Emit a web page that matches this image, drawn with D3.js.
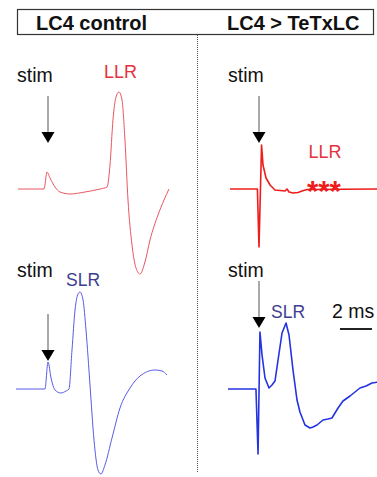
<!DOCTYPE html>
<html>
<head>
<meta charset="utf-8">
<script src="https://cdn.jsdelivr.net/npm/d3@7"></script>
<style>
  body { margin: 0; background: #fff; }
  svg { display: block; font-family: Arial, "Liberation Sans", sans-serif; }
</style>
</head>
<body>
<div id="chart"></div>
<script>
//Datos: tiempo (ms, 0 = estímulo) y amplitud (unidades arbitrarias, 0 = línea base)
const tLLRcontrol = [-1.875, -0.25, -0.06, 0.125, 0.44, 0.75, 1.375, 2.31, 3.25, 3.69, 3.875, 4.06, 4.25, 4.44, 4.625, 4.81, 5, 5.25, 5.5, 5.75, 6.06, 6.375, 6.875, 7.25, 7.56];
const vLLRcontrol = [0, 0, 1.7, 1.1, 0.2, -0.3, -0.5, -0.3, 0, 0.2, 2.4, 6.9, 9.2, 9.7, 8.9, 4.9, -1.1, -5.6, -7.9, -8.5, -7.3, -5.1, -2.6, -1.1, 0];

const tSLRcontrol = [-2, -0.19, 0, 0.19, 0.44, 0.81, 1.125, 1.31, 1.5, 1.69, 1.875, 2, 2.19, 2.375, 2.625, 2.875, 3.125, 3.31, 3.56, 4, 4.5, 5.125, 5.75, 6.69, 7.125, 7.44];
const vSLRcontrol = [0, 0, 2.7, 1.1, -0.1, -0.4, -0.2, 0, 3.9, 7.9, 9.5, 9.7, 8.9, 5.9, 0.4, -5.1, -8.1, -8.5, -7.6, -4.9, -1.9, 0.1, 1.3, 1.9, 1.8, 1.4];

const tLLRtetx = [-1.81, -0.1, 0, 0.16, 0.25, 0.44, 0.69, 1, 1.625, 1.75, 1.875, 2.125, 2.44, 2.69, 3, 7.5];
const vLLRtetx = [0, 0, -5.8, 4.4, 2.4, 1.1, 0.4, -0.1, -0.2, 0, -0.3, -0.4, -0.35, -0.2, -0.05, 0];

const tSLRtetx = [-1.94, -0.19, -0.06, 0.06, 0.19, 0.375, 0.625, 0.81, 1, 1.19, 1.44, 1.69, 1.875, 2.125, 2.375, 2.56, 2.875, 3.19, 3.375, 3.625, 4, 4.31, 4.56, 4.94, 5.25, 5.69, 6.31, 6.69, 7.06, 7.5];
const vSLRtetx = [0, 0, -6.5, 5.7, 3.4, 1.1, 0.1, 0.4, 0.8, 2.9, 5.6, 6.6, 5.4, 1.9, -1.1, -2.3, -3.6, -3.9, -3.8, -3.6, -3.1, -3.0, -2.9, -1.9, -1.2, -0.7, 0.1, 0.3, 0.6, 0.7];

//Títulos y etiquetas
const headerLabels = ['LC4 control', 'LC4 > TeTxLC'];
const responseLabels = ['LLR', 'SLR'];
const scaleBarMs = 2;

//Colores
const COLOR_RED_CTRL = '#ea5560',
COLOR_RED_TETX = '#ee1c1c',
COLOR_RED_LABEL = '#e3323c',
COLOR_BLUE_CTRL = '#5a5ae6',
COLOR_BLUE_TETX = '#2433e0',
COLOR_BLUE_LABEL = '#3d3d8f';

const width = 377, height = 477;

let svg = d3.select('#chart')
    .append('svg')
    .attr('width', width)
    .attr('height', height);

//Escalas: 16 px por ms, origen en el estímulo de cada columna
let xLeft = d3.scaleLinear().domain([0, 1]).range([48, 64]);
let xRight = d3.scaleLinear().domain([0, 1]).range([259, 275]);
let yTop = d3.scaleLinear().domain([0, 10]).range([189, 89]);
let yBottom = d3.scaleLinear().domain([0, 10]).range([389, 289]);

//Cabecera
svg.append('rect')
    .attr('x', 17.5).attr('y', 9.5)
    .attr('width', 356).attr('height', 25)
    .attr('fill', 'none')
    .attr('stroke', '#333')
    .attr('stroke-width', 1.2);

svg.selectAll('.header')
    .data(headerLabels)
    .enter()
    .append('text')
    .attr('class', 'header')
    .attr('x', function(d, i) { return i == 0 ? 36 : 227; })
    .attr('y', 30)
    .attr('font-size', 20)
    .attr('font-weight', 'bold')
    .attr('fill', '#111')
    .text(function(d) { return d; });

//Separador punteado
svg.append('line')
    .attr('x1', 197.5).attr('x2', 197.5)
    .attr('y1', 35).attr('y2', 473)
    .attr('stroke', '#555')
    .attr('stroke-width', 1)
    .attr('stroke-dasharray', '1,1');

//Trazos
let traces = [
    {t: tLLRcontrol, v: vLLRcontrol, x: xLeft, y: yTop, color: COLOR_RED_CTRL, w: 1, curve: d3.curveMonotoneX},
    {t: tSLRcontrol, v: vSLRcontrol, x: xLeft, y: yBottom, color: COLOR_BLUE_CTRL, w: 1, curve: d3.curveMonotoneX},
    {t: tLLRtetx, v: vLLRtetx, x: xRight, y: yTop, color: COLOR_RED_TETX, w: 1.6, curve: d3.curveLinear},
    {t: tSLRtetx, v: vSLRtetx, x: xRight, y: yBottom, color: COLOR_BLUE_TETX, w: 1.6, curve: d3.curveLinear}
];

traces.forEach(function(tr) {
    let line = d3.line()
        .x(function(d) { return tr.x(d[0]); })
        .y(function(d) { return tr.y(d[1]); })
        .curve(tr.curve);
    svg.append('path')
        .datum(d3.zip(tr.t, tr.v))
        .attr('d', line)
        .attr('fill', 'none')
        .attr('stroke', tr.color)
        .attr('stroke-width', tr.w)
        .attr('stroke-linejoin', 'round');
});

//Flechas de estímulo (punta en amplitud, relativo a la línea base)
let arrows = [
    {x: xLeft, y: yTop, tip: 4.6, labelY: 10.7},
    {x: xRight, y: yTop, tip: 4.6, labelY: 10.7},
    {x: xLeft, y: yBottom, tip: 2.8, labelY: 11.2},
    {x: xRight, y: yBottom, tip: 6.1, labelY: 11.2}
];

arrows.forEach(function(a) {
    let cx = a.x(0), tipY = a.y(a.tip);
    svg.append('line')
        .attr('x1', cx).attr('x2', cx)
        .attr('y1', tipY - 47).attr('y2', tipY - 10)
        .attr('stroke', '#555')
        .attr('stroke-width', 1);
    svg.append('path')
        .attr('d', 'M' + (cx - 6.5) + ',' + (tipY - 11) + 'L' + (cx + 6.5) + ',' + (tipY - 11) + 'L' + cx + ',' + tipY + 'Z')
        .attr('fill', '#000');
    svg.append('text')
        .attr('x', a.x.range()[0] - 31)
        .attr('y', a.y(a.labelY))
        .attr('font-size', 19.5)
        .attr('fill', '#111')
        .text('stim');
});

//Etiquetas de respuesta
let labels = [
    {text: responseLabels[0], x: xLeft(3.5), y: yTop(11.1), color: COLOR_RED_LABEL, size: 18},
    {text: responseLabels[0], x: xRight(3.1), y: yTop(3.1), color: COLOR_RED_LABEL, size: 18},
    {text: responseLabels[1], x: xLeft(1.125), y: yBottom(10.3), color: COLOR_BLUE_LABEL, size: 17.5},
    {text: responseLabels[1], x: xRight(0.75), y: yBottom(7.1), color: COLOR_BLUE_LABEL, size: 17.5}
];

svg.selectAll('.resp')
    .data(labels)
    .enter()
    .append('text')
    .attr('class', 'resp')
    .attr('x', function(d) { return d.x; })
    .attr('y', function(d) { return d.y; })
    .attr('font-size', function(d) { return d.size; })
    .attr('fill', function(d) { return d.color; })
    .text(function(d) { return d.text; });

//Asteriscos de significancia
svg.append('text')
    .attr('x', xRight(3.0))
    .attr('y', yTop(-1.2))
    .attr('font-size', 29)
    .attr('font-weight', 'bold')
    .attr('fill', COLOR_RED_TETX)
    .text('***');

//Barra de escala
svg.append('line')
    .attr('x1', xRight(5.06)).attr('x2', xRight(5.06 + scaleBarMs))
    .attr('y1', yBottom(6)).attr('y2', yBottom(6))
    .attr('stroke', '#222')
    .attr('stroke-width', 2);

svg.append('text')
    .attr('x', xRight(4.56))
    .attr('y', yBottom(7.1))
    .attr('font-size', 19.5)
    .attr('fill', '#111')
    .text(scaleBarMs + ' ms');
</script>
</body>
</html>
